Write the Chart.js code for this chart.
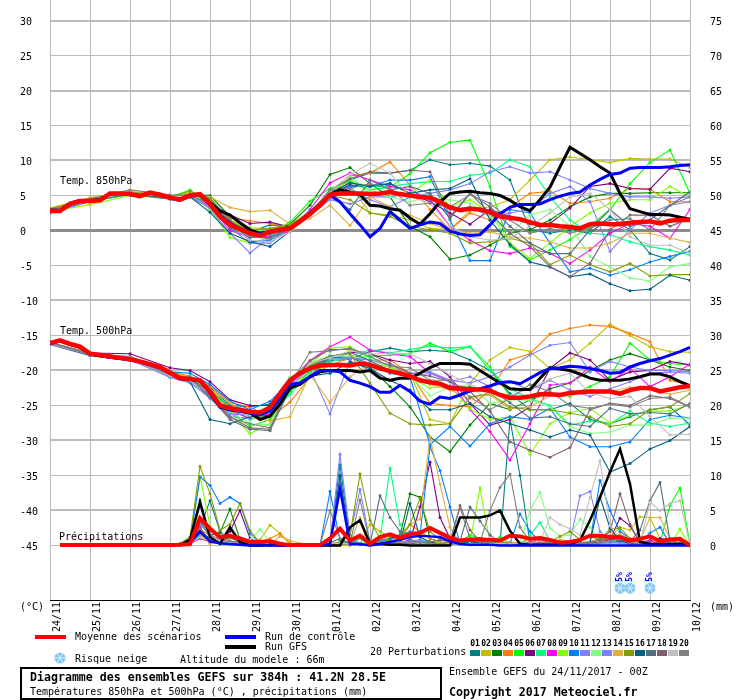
<!DOCTYPE html>
<html><head><meta charset="utf-8">
<style>html,body{margin:0;padding:0;background:#fff}canvas{display:block}</style>
<script src="https://cdn.jsdelivr.net/npm/chart.js@4"></script>
</head><body><canvas id="c" width="740" height="700"></canvas>
<script>
const dateLabels=["24/11","25/11","26/11","27/11","28/11","29/11","30/11","01/12","02/12","03/12","04/12","05/12","06/12","07/12","08/12","09/12","10/12"];
const tempTicks=[-45,-40,-35,-30,-25,-20,-15,-10,-5,0,5,10,15,20,25,30];
const mmTicks=[0,5,10,15,20,25,30,35,40,45,50,55,60,65,70,75];
const memberColors=["#008080","#C0C000","#008000","#FF8000","#00FF00","#800080","#00FF80","#FF00FF","#80FF00","#0080FF","#8080FF","#80FF80","#8080FF","#E0B040","#80A000","#006080","#507080","#806070","#C0C0C0","#808080"];
const memberHours=[0,24,48,72,84,96,108,120,132,144,156,168,180,192,204,216,228,240,252,264,276,288,300,312,324,336,348,360,372,384];
const precipHours=[78,84,90,96,102,108,114,120,126,132,138,144,150,156,162,168,174,180,186,192,198,204,210,216,222,228,234,240,246,252,258,264,270,276,282,288,294,300,306,312,318,324,330,336,342,348,354,360,366,372,378,384];
const snowHours=[342,348,360];
const snowLabels=["5%","5%","5%"];

const mean850=[2.8,2.8,3.8,4.2,4.2,4.3,5.3,5.3,5.2,4.9,5.4,5.1,4.7,4.4,5.0,5.2,3.8,2.0,0.8,0.2,-0.4,-0.7,-0.2,0.1,0.3,1.3,2.4,3.6,5.1,5.3,5.3,5.3,5.2,5.3,5.5,5.2,5.0,4.8,4.7,4.1,3.3,2.9,3.1,3.0,2.6,2.0,1.8,1.6,1.2,0.8,0.8,0.6,0.5,0.3,0.9,1.0,0.9,0.9,1.1,1.2,1.3,1.0,1.4,1.5,1.5];
const gfs850=[2.9,2.9,3.9,4.3,4.3,4.4,5.3,5.3,5.2,5.0,5.4,5.1,4.7,4.4,5.0,5.2,4.0,2.8,2.2,1.1,0.1,-0.4,-0.2,0.1,0.3,1.4,2.5,3.7,5.1,5.8,5.5,5.1,3.6,3.5,3.1,2.9,1.8,0.9,2.4,4.1,5.3,5.5,5.6,5.4,5.3,5.0,4.3,3.4,2.8,4.4,6.2,9.1,11.9,11.0,10.1,9.1,8.2,5.3,3.1,2.7,2.3,2.3,2.2,1.9,1.6];
const ctl850=[2.9,2.9,3.8,4.3,4.3,4.4,5.2,5.3,5.1,5.0,5.4,5.2,4.6,4.3,4.9,5.1,3.7,2.2,1.0,0.3,-0.3,-0.5,-0.1,0.2,0.4,1.2,2.3,3.5,5.1,4.1,2.4,0.8,-0.9,0.3,2.7,1.5,0.3,0.8,1.2,1.0,-0.1,-0.5,-0.7,-0.6,0.8,2.4,3.3,3.7,3.7,3.8,4.4,4.9,5.3,5.5,6.5,7.3,8.0,8.2,8.9,9.0,9.0,9.0,9.1,9.3,9.4];
const t850m01=[3.0,4.4,5.5,4.8,5.2,4.2,1.0,-0.2,0.8,0.6,2.2,5.6,7.2,8.2,8.2,8.6,10.1,9.4,9.6,9.2,7.2,0.1,-0.4,0.1,-0.4,2.0,0.1,-3.3,-4.2,-2.3];
const t850m02=[3.2,4.7,5.6,4.9,5.4,4.4,1.5,0.4,0.2,0.8,2.8,5.4,6.5,2.5,2.2,1.5,0.3,0.1,2.9,3.4,4.4,7.2,10.1,10.5,10.1,9.7,10.3,10.2,10.2,9.0];
const t850m03=[2.9,4.2,5.3,4.5,5.2,5.0,2.0,0.2,-0.3,0.9,3.6,8.0,9.0,6.7,4.8,0.6,-0.9,-4.1,-3.5,-2.1,-0.4,0.1,1.5,3.4,4.8,5.3,5.3,5.4,5.4,5.4];
const t850m04=[3.0,4.3,5.2,4.6,4.9,4.0,1.8,1.4,1.0,0.4,2.0,4.8,7.8,8.2,9.8,6.5,3.0,0.1,2.5,1.5,3.4,5.3,5.6,3.9,4.1,4.6,6.0,5.9,4.1,4.1];
const t850m05=[2.9,4.1,5.3,4.7,5.8,3.5,0.5,0.0,-0.5,1.2,4.2,6.0,7.0,5.8,6.2,8.1,11.1,12.6,12.9,6.3,-2.3,-4.2,-2.8,-1.3,0.6,3.0,6.7,9.7,11.5,5.3];
const t850m06=[2.8,4.2,5.2,4.6,4.9,3.9,2.2,1.0,1.2,0.5,2.6,5.2,6.5,6.3,6.7,5.3,4.1,2.5,0.9,3.0,2.0,1.0,1.0,3.2,6.3,6.7,6.0,5.9,8.9,8.4];
const t850m07=[2.9,4.2,5.1,4.7,5.1,3.6,1.2,0.0,-0.7,0.1,2.4,5.0,7.0,6.3,6.3,6.7,7.0,7.0,7.9,8.2,10.1,9.1,4.8,1.5,-0.4,-0.6,-1.6,-2.3,-2.8,-3.5];
const t850m08=[3.0,4.3,5.3,4.7,5.0,3.5,0.0,-1.0,-0.8,-0.2,3.0,6.8,8.2,7.2,6.3,5.8,4.4,0.6,-1.4,-2.9,-3.3,-2.5,-3.3,-4.7,-2.8,-0.4,1.0,0.6,-1.1,3.0];
const t850m09=[2.7,3.7,5.0,4.5,5.2,3.0,-1.0,-1.8,-1.0,0.3,2.6,5.4,7.4,5.3,4.8,5.3,7.2,3.4,4.4,2.5,-1.8,-4.0,-1.8,0.6,2.5,3.9,4.4,4.4,6.3,4.8];
const t850m10=[2.8,4.3,5.3,4.6,5.1,4.6,1.5,-1.6,-1.4,0.2,2.8,5.2,6.3,6.3,7.2,7.2,7.7,1.5,-4.3,-4.3,3.0,2.5,-1.8,-5.9,-5.4,-6.4,-5.6,-4.5,-3.7,-3.0];
const t850m11=[2.5,4.1,5.2,4.5,4.8,3.2,-0.4,-3.2,-0.9,0.2,2.2,4.4,3.8,4.8,4.8,5.3,4.4,3.0,3.4,2.0,2.5,3.0,5.3,6.3,4.1,-3.0,0.1,2.5,3.6,4.1];
const t850m12=[2.9,4.2,5.2,4.7,5.0,3.8,1.0,0.2,-0.2,0.5,2.6,5.5,7.6,5.8,4.8,4.1,4.8,4.4,3.9,2.0,-0.4,2.2,3.0,0.6,-3.7,-5.2,-6.8,-7.2,-5.2,-4.7];
const t850m13=[2.6,4.2,5.3,4.7,5.0,3.3,0.4,-1.8,-1.8,0.3,2.7,5.2,6.0,4.4,3.4,4.8,5.3,5.8,6.7,8.4,9.1,8.2,8.4,7.2,6.0,5.3,4.8,4.8,4.6,4.8];
const t850m14=[3.1,4.6,5.5,4.7,5.1,4.8,3.3,2.7,2.9,0.9,1.7,3.6,0.7,4.8,3.4,2.2,1.0,0.1,-0.4,-0.2,-0.9,-1.1,-1.6,-2.5,-2.5,-1.8,-0.4,-0.4,-1.1,-1.7];
const t850m15=[3.1,4.5,5.5,4.9,5.6,4.6,1.4,0.0,0.3,0.9,2.4,5.0,4.4,2.5,2.0,0.6,0.1,-0.4,-1.8,-1.6,-1.1,-1.8,-4.9,-3.5,-4.9,-5.9,-4.7,-6.5,-6.3,-6.3];
const t850m16=[2.6,4.3,5.3,4.6,4.8,2.6,-0.4,-1.6,-2.3,-0.1,2.3,5.4,6.8,6.3,6.7,5.3,5.8,6.0,7.4,1.5,-2.0,-4.5,-5.2,-6.6,-6.2,-7.6,-8.6,-8.4,-6.4,-7.1];
const t850m17=[2.8,4.2,5.2,4.5,4.9,3.7,0.4,-1.0,-1.0,0.2,2.2,4.8,3.0,7.2,5.8,6.3,5.3,1.7,5.3,3.4,0.6,-1.8,-3.3,-3.3,0.1,3.0,0.6,1.5,3.6,5.5];
const t850m18=[2.8,4.4,5.4,4.7,5.0,3.9,1.3,-0.6,-0.5,0.0,2.4,5.8,7.4,8.4,8.2,8.6,8.4,2.0,5.3,2.5,-0.4,-2.3,-5.2,-6.6,-4.7,0.1,2.2,2.2,0.6,1.7];
const t850m19=[2.8,4.3,5.4,4.8,4.9,3.7,0.8,-1.4,-1.6,-0.2,2.1,5.6,8.0,9.6,8.2,4.8,3.9,0.6,-0.9,-1.4,-1.1,0.6,2.5,4.8,5.3,3.0,-0.9,-2.1,-2.1,-3.3];
const t850m20=[2.5,4.5,5.8,5.1,5.0,3.7,0.6,-0.8,-1.2,0.1,2.5,5.8,6.0,6.7,6.0,3.6,3.9,3.4,5.1,3.9,1.5,-0.4,0.3,-0.4,0.3,1.5,1.7,0.1,3.6,4.8];

const mean500=[-16.1,-15.7,-16.2,-16.6,-17.6,-17.8,-18.0,-18.2,-18.4,-18.7,-19.1,-19.5,-20.3,-21.1,-21.2,-21.4,-23.0,-25.0,-25.4,-25.6,-25.9,-26.0,-25.3,-23.3,-21.4,-20.4,-19.7,-19.3,-19.2,-19.2,-19.3,-19.0,-19.2,-19.7,-20.1,-20.4,-20.8,-21.4,-21.7,-21.9,-22.5,-22.6,-22.7,-22.7,-22.9,-23.5,-23.9,-23.9,-23.7,-23.4,-23.4,-23.5,-23.2,-23.1,-23.0,-23.0,-23.0,-23.3,-22.8,-22.5,-22.5,-23.0,-22.7,-22.4,-22.2];
const gfs500=[-16.1,-15.7,-16.2,-16.6,-17.6,-17.9,-18.1,-18.3,-18.4,-18.7,-19.1,-19.5,-20.3,-21.1,-21.2,-21.5,-23.2,-25.2,-25.6,-25.8,-26.0,-27.0,-26.5,-24.8,-22.5,-22.0,-20.9,-20.2,-20.0,-20.0,-20.0,-20.2,-20.0,-21.1,-21.4,-21.1,-21.1,-20.4,-19.6,-19.0,-19.0,-19.0,-19.1,-20.0,-20.9,-21.8,-22.6,-22.7,-22.7,-21.1,-19.6,-19.8,-20.0,-20.5,-21.1,-21.4,-21.4,-21.4,-21.2,-20.9,-20.5,-20.5,-20.9,-21.6,-22.2];
const ctl500=[-16.2,-15.8,-16.3,-16.7,-17.7,-17.9,-18.1,-18.3,-18.5,-18.8,-19.2,-19.6,-20.4,-21.2,-21.3,-21.5,-23.2,-25.2,-25.6,-25.8,-26.1,-26.3,-25.8,-24.0,-22.0,-21.8,-20.9,-20.0,-20.0,-20.2,-21.4,-21.8,-22.3,-23.1,-23.1,-22.1,-23.0,-24.4,-24.8,-23.8,-24.0,-23.5,-22.9,-22.6,-22.2,-21.7,-21.6,-21.9,-21.1,-20.3,-19.7,-19.6,-19.4,-19.5,-19.7,-20.0,-20.4,-20.3,-19.5,-19.0,-18.6,-18.3,-17.8,-17.3,-16.7];
const t500m01=[-16.0,-17.5,-18.1,-20.4,-21.0,-22.4,-25.0,-25.2,-24.8,-21.0,-19.6,-18.6,-18.4,-17.3,-16.8,-17.3,-17.1,-17.3,-18.5,-20.0,-23.3,-25.6,-25.6,-24.7,-27.0,-27.6,-26.6,-25.6,-25.2,-27.8];
const t500m02=[-16.0,-17.7,-18.2,-20.6,-21.4,-23.4,-25.6,-26.4,-25.8,-22.2,-20.2,-19.2,-19.0,-19.0,-19.5,-20.4,-27.0,-27.6,-21.8,-18.5,-16.7,-17.3,-19.7,-18.5,-16.1,-13.4,-15.0,-16.6,-17.3,-17.4];
const t500m03=[-16.1,-17.6,-18.3,-20.5,-21.2,-22.8,-25.4,-26.2,-25.8,-21.4,-19.4,-18.2,-18.0,-19.5,-22.3,-25.2,-29.5,-31.6,-27.8,-24.7,-25.6,-24.2,-22.6,-21.8,-20.0,-18.5,-17.6,-18.5,-19.5,-20.0];
const t500m04=[-16.0,-17.6,-18.0,-20.2,-20.8,-22.2,-24.6,-25.2,-26.8,-24.5,-21.0,-19.2,-18.2,-18.5,-18.5,-20.4,-24.7,-25.0,-25.2,-22.8,-18.5,-17.6,-14.8,-14.0,-13.5,-13.7,-14.7,-15.9,-21.4,-22.1];
const t500m05=[-16.2,-17.6,-18.2,-20.6,-21.0,-23.6,-26.0,-28.0,-27.0,-23.0,-20.0,-18.4,-18.2,-18.0,-17.8,-17.6,-16.1,-17.3,-16.6,-19.5,-23.7,-24.2,-23.3,-23.7,-22.3,-20.9,-16.1,-18.5,-19.0,-19.2];
const t500m06=[-16.0,-17.5,-17.6,-19.6,-20.0,-21.6,-24.2,-25.0,-25.0,-21.6,-19.0,-18.0,-17.4,-17.6,-18.5,-19.0,-18.7,-20.9,-24.7,-27.8,-27.0,-25.2,-19.7,-17.5,-18.5,-21.4,-20.2,-20.0,-18.7,-19.2];
const t500m07=[-16.1,-17.7,-18.2,-20.7,-21.0,-23.0,-25.4,-27.0,-26.4,-23.4,-20.2,-18.8,-18.0,-17.0,-17.5,-17.0,-16.5,-16.8,-16.6,-20.0,-22.6,-24.0,-25.0,-27.8,-27.2,-27.6,-25.8,-27.5,-28.0,-27.5];
const t500m08=[-16.1,-17.7,-18.2,-20.5,-21.2,-23.2,-25.8,-26.8,-26.2,-21.4,-18.6,-16.6,-15.2,-17.1,-17.6,-18.0,-20.4,-21.4,-25.6,-28.7,-32.8,-27.6,-22.1,-21.8,-19.5,-21.6,-19.7,-22.3,-20.9,-19.1];
const t500m09=[-16.0,-17.6,-18.3,-20.7,-21.3,-23.6,-26.0,-29.0,-27.6,-22.6,-19.0,-16.8,-16.6,-18.2,-19.5,-21.0,-22.5,-22.2,-25.5,-27.0,-26.6,-32.0,-27.6,-26.0,-25.4,-27.5,-26.4,-25.8,-25.8,-24.9];
const t500m10=[-16.2,-17.8,-18.0,-20.2,-20.4,-22.0,-24.4,-25.6,-24.4,-21.6,-19.8,-18.2,-18.0,-19.0,-20.4,-20.9,-30.6,-28.0,-30.8,-27.6,-26.6,-27.0,-25.4,-29.5,-30.9,-30.9,-30.2,-27.0,-26.4,-26.8];
const t500m11=[-16.3,-17.9,-18.5,-20.9,-21.6,-24.0,-26.6,-26.8,-26.0,-22.2,-19.8,-26.2,-18.6,-20.0,-21.4,-20.9,-20.4,-21.6,-20.9,-22.3,-21.6,-22.8,-21.4,-22.8,-23.7,-22.6,-21.6,-20.4,-20.2,-20.4];
const t500m12=[-16.1,-17.7,-18.4,-20.6,-21.4,-23.4,-25.8,-27.6,-27.8,-21.0,-19.0,-17.8,-18.0,-18.4,-19.6,-20.8,-23.6,-22.4,-22.0,-24.7,-24.2,-24.2,-25.2,-28.0,-29.0,-28.8,-27.8,-27.8,-26.8,-26.8];
const t500m13=[-16.2,-17.8,-18.4,-21.0,-21.8,-23.8,-26.2,-26.4,-26.0,-22.0,-19.6,-18.4,-18.2,-18.5,-19.2,-20.4,-20.2,-21.4,-21.8,-20.9,-19.5,-17.8,-16.4,-16.0,-20.2,-18.7,-19.5,-20.0,-20.0,-20.2];
const t500m14=[-16.0,-17.5,-18.1,-20.3,-21.0,-22.6,-24.6,-26.6,-27.2,-26.6,-20.6,-24.6,-20.9,-19.0,-20.0,-21.0,-22.0,-22.8,-24.0,-23.5,-25.5,-25.2,-23.6,-23.6,-22.8,-23.0,-22.4,-22.8,-23.4,-22.8];
const t500m15=[-16.1,-17.6,-18.2,-20.4,-21.4,-22.8,-25.2,-25.8,-25.6,-21.4,-19.2,-18.0,-17.6,-21.8,-26.1,-27.6,-27.8,-27.6,-23.8,-23.3,-25.2,-25.6,-25.6,-26.1,-26.6,-28.0,-27.6,-25.6,-25.2,-23.3];
const t500m16=[-16.2,-17.8,-18.4,-20.8,-21.6,-27.0,-27.6,-26.6,-26.4,-22.8,-20.8,-20.4,-18.8,-19.7,-21.4,-22.8,-25.6,-25.6,-24.7,-26.6,-27.6,-28.5,-29.5,-28.5,-29.2,-34.5,-33.3,-31.2,-30.0,-28.0];
const t500m17=[-16.1,-17.8,-18.3,-20.7,-21.2,-23.8,-27.0,-28.4,-28.6,-22.6,-20.8,-18.0,-17.4,-18.6,-20.0,-20.8,-21.6,-22.2,-22.4,-22.6,-24.6,-26.8,-26.6,-27.6,-28.0,-25.4,-26.2,-26.0,-26.2,-24.7];
const t500m18=[-16.0,-17.6,-18.3,-20.6,-21.0,-23.6,-26.6,-28.2,-28.4,-22.0,-18.6,-17.0,-17.0,-17.6,-19.0,-20.4,-20.8,-21.6,-23.0,-25.8,-30.2,-31.4,-32.4,-31.0,-25.6,-24.7,-25.0,-23.6,-24.0,-25.2];
const t500m19=[-16.2,-17.7,-18.4,-20.8,-21.5,-23.2,-25.6,-26.4,-26.0,-22.4,-19.0,-18.2,-17.2,-17.6,-17.6,-17.6,-19.0,-20.6,-22.0,-23.2,-23.6,-22.6,-21.2,-20.4,-23.2,-24.0,-23.7,-26.6,-29.2,-29.1];
const t500m20=[-16.1,-17.7,-18.3,-20.5,-21.2,-23.6,-26.8,-27.6,-28.2,-22.0,-17.4,-17.2,-16.8,-18.0,-19.4,-19.6,-21.4,-21.4,-23.8,-25.6,-24.0,-22.0,-23.0,-25.0,-25.4,-24.8,-25.2,-24.0,-23.8,-25.2];

const meanRain=[null,0.05,0.05,0.05,0.05,0.05,0.05,0.05,0.05,0.05,0.05,0.05,0.05,0.1,0.2,3.9,2.4,1.2,1.4,1.0,0.5,0.5,0.6,0.25,0.05,0.05,0.05,0.05,1.0,2.4,0.7,1.4,0.25,1.2,1.6,1.1,1.6,1.8,2.5,1.8,1.1,0.7,0.85,0.9,0.8,0.7,1.4,1.3,0.95,1.05,0.8,0.4,0.5,0.8,1.4,1.4,1.2,1.2,0.7,0.95,1.3,0.6,0.85,0.95,0];
const gfsRain=[null,0,0,0,0,0,0,0,0,0,0,0,0,0.1,0.8,6.2,1.2,0.25,2.6,0.5,0,0,0.1,0,0,0,0,0,0,0,2.6,3.6,0.25,0.2,0.1,0.1,0,0,0,0,0,4,4,4,4.3,5,2.1,0.25,0.1,0.1,0.1,0.1,0.2,0.7,3.6,6.9,10.5,13.8,8.8,0.5,0.2,0.2,0.2,0.2,0];
const ctlRain=[null,0,0,0,0,0,0,0,0,0,0,0,0,0.1,0.4,2.0,0.6,0.3,0.2,0.1,0,0,0,0,0,0,0,0,0.2,8.1,0.2,0.2,0,0.2,0.5,0.8,1.2,1.4,1.3,1.2,0.6,0.2,0.1,0.1,0.1,0,0,0,0,0,0,0,0,0,0,0,0,0,0,0,0,0,0,0,0];
const rainM01=[0,.4,2.5,6.4,2,.5,.3,.2,0,0,0,0,0,0,0,.3,11.5,1,.3,.1,.5,.7,.3,.8,.6,.4,.3,.2,.3,.5,.3,.5,.2,18,10,.3,.2,.1,.1,.2,.3,.5,1,1,.8,.5,.3,.2,.1,.2,.2,0];
const rainM02=[0,.2,1,.6,.4,.3,.2,.4,.8,2.9,1.7,.2,0,0,0,0,0,0,.2,3,2,1.2,.7,.4,.3,.2,.1,.2,.3,.3,.4,.2,.3,.4,.2,.3,.3,.5,.8,.6,.4,.5,.8,1.3,2.6,2.2,4.1,4,1,.3,.2,0];
const rainM03=[.1,.6,4,1.5,1.8,5.2,.8,.2,.1,0,0,0,0,0,0,0,.4,.6,.3,.2,.8,1,1.5,7.4,6.9,1,.5,.2,.2,.5,.6,.5,.2,.1,.2,.1,.2,.2,.3,.2,.3,.5,.8,1,.6,.4,.2,.2,.2,.1,.1,0];
const rainM04=[.1,.5,2.2,1.5,.8,.6,.5,.3,.6,1,1.7,.4,0,0,0,0,.3,.2,1,.5,.3,.4,1.5,3,2,1,.5,.4,.3,.2,.3,.2,.1,.2,.3,1,.8,.3,.2,.5,.4,.3,.5,1,1,.7,.5,.6,.4,.3,.2,0];
const rainM05=[.1,.3,1.5,1,.3,.2,.2,.1,0,0,0,0,0,0,0,0,.6,.3,.2,.2,.3,.5,.4,.5,.8,.5,.3,.2,.5,1.5,1,.6,1.2,.3,.2,.2,.2,.1,.2,.2,.2,.3,.2,.4,.5,.5,.3,.2,.4,5.7,8.2,.2];
const rainM06=[.2,1,2,1,.5,2,5,1,.3,0,0,0,0,0,0,0,.2,.4,.2,.1,.2,.3,.4,.6,5.5,11.9,4,1,.5,.4,.3,.4,.3,.2,.2,.2,.3,.2,.3,.4,.3,.2,.4,.8,3.9,2.8,.5,.7,1,.8,.3,0];
const rainM07=[.1,.5,1.5,.5,.2,.1,.1,.5,.8,.4,.2,0,0,0,0,0,.5,.3,1,.1,.8,11,3,.8,.4,.3,.2,.2,.4,.8,.5,.4,.3,.2,.2,1.5,3.3,.6,.3,.2,.4,.5,.3,.2,.3,.2,.2,.1,.2,.1,.1,0];
const rainM08=[.1,.3,1,.5,.4,.3,.5,.2,.1,0,0,0,0,0,0,0,.2,.1,.3,.2,.3,.2,.4,.8,.3,.2,.1,.2,.3,.5,.3,.6,.2,.3,.2,.5,.9,.4,.3,.2,.2,.3,.4,.5,.6,.3,.2,.6,.3,.5,.4,0];
const rainM09=[.1,.8,9.8,2.8,.6,.3,.3,.2,.3,0,0,0,0,0,0,0,.1,.2,.4,.6,.3,.4,.2,.5,.8,.6,.4,.3,.5,.5,8.2,.5,.6,.4,.3,.3,.2,.4,.3,.2,.3,.2,.2,.5,.4,.3,.2,.2,.1,.1,2.3,0];
const rainM10=[.1,.5,9.8,8.6,6,6.9,6,1.7,.3,0,0,0,0,0,0,7.7,.8,.2,.1,.2,.6,.8,1.5,2,1.5,14.1,10.7,5.5,.2,.1,.2,.1,.2,.2,4.5,2,.5,.3,.2,.2,.3,.5,9.3,5,2,1,.4,1.8,2.6,.3,.1,0];
const rainM11=[.1,.4,3,1.6,.8,.4,.3,.2,.1,0,0,0,0,0,0,.5,13,1.5,8,.5,.3,.2,.5,.6,.8,.3,.2,.2,.1,.2,.3,.2,.4,.3,.2,.2,.1,.2,.4,.6,7.1,7.7,2,.6,.4,.3,.2,.2,.2,.1,.1,0];
const rainM12=[0,.3,1.2,.6,.4,.5,.3,.8,2.3,.5,.2,0,0,0,0,0,.3,.2,.4,.2,.3,.5,.3,.2,.3,.2,.3,.2,.2,.3,.4,.5,.3,.2,.4,5,7.6,2.5,1.3,1.5,3.8,2.6,.6,.3,.3,.2,.2,.1,.2,.1,.1,0];
const rainM13=[.1,.2,1.5,.7,.4,.3,.3,.2,.1,0,0,0,0,0,0,.2,9.5,.8,.3,.2,.2,.3,.3,.4,.6,.3,.2,.2,.3,.2,.2,.3,.2,.1,.2,.2,.3,.2,.1,.2,.3,.2,.3,.4,.4,.2,.1,.2,.2,.1,.1,0];
const rainM14=[.2,.8,1.8,.2,.6,1,.7,.5,.2,.1,1.3,.7,.3,0,0,.5,.4,.2,4,.2,.4,.6,1.2,3,3.8,15.5,8.8,2.6,.3,.2,.4,.3,.2,.3,.4,.6,.3,.3,.5,.4,.3,.6,.8,1.5,1.6,1,.7,4,4,1,.3,0];
const rainM15=[.3,1.2,11.3,7.4,2.2,3,6,2.1,.4,0,0,0,0,0,0,0,.5,1.5,10.2,3.6,1,.6,.8,3,6.7,2,.8,.5,.4,.5,.3,.3,.5,.4,.3,.3,.4,.5,1.3,2,.8,1.2,.9,2.3,2.5,1,.4,.3,.3,.1,.1,0];
const rainM16=[.1,.4,1.8,.7,.5,1.2,.4,.2,.1,0,0,0,0,0,0,0,10,.4,.2,.1,.3,.5,.3,6,1.2,.5,.2,.2,.3,.5,.4,.2,.1,.1,.2,.2,.2,.1,.2,.3,.2,.4,6.9,2.5,.7,.3,.2,.2,.1,.1,.1,0];
const rainM17=[.1,.6,3.5,1.2,.4,.6,.3,.2,.1,0,0,0,0,0,0,.4,1,.3,.2,.1,7.1,4,2,.6,.4,.3,.2,.4,.6,5.5,3.5,1.5,.4,.2,.1,.2,.3,.2,.1,.1,.2,.3,.5,1.2,.8,.6,2.2,6.4,9,.7,.3,0];
const rainM18=[.1,.7,2.6,.5,.3,.5,.2,.1,.2,.1,0,0,0,0,0,.2,.2,.1,.3,.1,.2,.4,.3,.3,.2,.5,.8,.6,5.7,2.2,.6,.4,.3,.2,.3,.4,.2,.3,.2,.3,.5,.4,.8,2,7.4,3,.3,.2,.2,.2,.5,0];
const rainM19=[.1,.4,5.5,1.2,.6,.4,.3,.2,.1,0,0,0,0,0,0,.2,.3,.2,.3,.2,.2,.3,.4,.5,.3,.2,.2,.3,.2,.3,.2,.2,.3,.2,.4,.3,.5,4,3,2.4,1.5,6.9,12.1,2.8,1,.5,.3,6.2,5,6,6.4,0];
const rainM20=[.1,.4,6.5,.8,.3,2.5,.3,.2,.1,0,0,0,0,0,0,5,1,.3,6.5,.4,.3,.4,.3,.5,.4,.3,.2,.5,5.4,1,.5,5,8.3,10.2,2.6,.6,.4,.3,.2,.3,.3,.2,.4,.6,1,.4,.3,.3,.2,.6,.4,0];

const t850Members=[t850m01,t850m02,t850m03,t850m04,t850m05,t850m06,t850m07,t850m08,t850m09,t850m10,t850m11,t850m12,t850m13,t850m14,t850m15,t850m16,t850m17,t850m18,t850m19,t850m20];
const t500Members=[t500m01,t500m02,t500m03,t500m04,t500m05,t500m06,t500m07,t500m08,t500m09,t500m10,t500m11,t500m12,t500m13,t500m14,t500m15,t500m16,t500m17,t500m18,t500m19,t500m20];
const rainMembers=[rainM01,rainM02,rainM03,rainM04,rainM05,rainM06,rainM07,rainM08,rainM09,rainM10,rainM11,rainM12,rainM13,rainM14,rainM15,rainM16,rainM17,rainM18,rainM19,rainM20];

const MONO='"DejaVu Sans Mono"';
const xy=(hs,vs)=>vs.map((v,i)=>({x:hs[i],y:v}));
const six=vs=>vs.map((v,i)=>({x:i*6,y:v}));
const datasets=[];
[[t850Members,memberHours,'yT'],[t500Members,memberHours,'yT'],[rainMembers,precipHours,'yR']].forEach(([grp,hs,axis])=>{
  grp.forEach((vals,i)=>datasets.push({data:xy(hs,vals),order:40-i,yAxisID:axis,borderColor:memberColors[i],backgroundColor:memberColors[i],borderWidth:1.1,pointRadius:1.5,pointBorderWidth:0,fill:false,tension:0}));
});
const main=(vals,col,w,axis,order)=>({data:six(vals),order,yAxisID:axis,borderColor:col,backgroundColor:col,borderWidth:w,pointRadius:0,fill:false,tension:0,spanGaps:false});
[[gfs850,'#000000',3,'yT',3],[gfs500,'#000000',3,'yT',3],[gfsRain,'#000000',2.5,'yR',3],
 [ctl850,'#0000FF',3,'yT',2],[ctl500,'#0000FF',3,'yT',2],[ctlRain,'#0000FF',2.5,'yR',2],
 [mean850,'#FF0000',4.5,'yT',1],[mean500,'#FF0000',4.5,'yT',1],[meanRain,'#FF0000',4,'yR',1]].forEach(a=>datasets.push(main(...a)));

function flake(ctx,cx,cy,r){
  ctx.save();
  ctx.fillStyle='#7FC4EE';ctx.beginPath();ctx.arc(cx,cy,r,0,Math.PI*2);ctx.fill();
  ctx.strokeStyle='#DFF3FF';ctx.lineWidth=1;
  for(let k=0;k<3;k++){const a=k*Math.PI/3;ctx.beginPath();ctx.moveTo(cx-Math.cos(a)*r,cy-Math.sin(a)*r);ctx.lineTo(cx+Math.cos(a)*r,cy+Math.sin(a)*r);ctx.stroke();}
  ctx.restore();
}
const flakeIcon=document.createElement('canvas');flakeIcon.width=12;flakeIcon.height=12;
flake(flakeIcon.getContext('2d'),6,6,5.5);
datasets.push({type:'scatter',order:0,data:snowHours.map(h=>({x:h,y:-51.1})),yAxisID:'yT',pointStyle:flakeIcon,pointRadius:6,showLine:false});

function txt(ctx,s,x,y,font,color){ctx.font=font;ctx.fillStyle=color||'#000';ctx.textAlign='left';ctx.textBaseline='middle';ctx.fillText(s,x,y);}
const page={id:'page',afterDatasetsDraw(chart){
  const c=chart.ctx,xs=chart.scales.x;const f=MONO,n='10px '+f;
  c.save();
  txt(c,'Temp. 850hPa',60,181,n);txt(c,'Temp. 500hPa',60,331,n);txt(c,'Précipitations',59,537,n);
  txt(c,'(°C)',20,607,n);txt(c,'(mm)',710,607,n);
  c.fillStyle='#D8FBFF';c.fillRect(xs.getPixelForValue(snowHours[0])-8,580,24,3);c.fillRect(xs.getPixelForValue(snowHours[2])-6,580,12,3);
  snowHours.forEach((h,i)=>{c.save();c.translate(xs.getPixelForValue(h),577);c.rotate(-Math.PI/2);c.font='bold 8px '+f;c.fillStyle='#0000FF';c.textAlign='center';c.textBaseline='middle';c.fillText(snowLabels[i],0,0);c.restore();});
  [[35,637,'#FF0000'],[225,637,'#0000FF'],[225,647,'#000000']].forEach(([x,y,col])=>{c.fillStyle=col;c.fillRect(x,y-2,31,4);});
  txt(c,'Moyenne des scénarios',75,637.5,n);txt(c,'Run de contrôle',265,637.5,n);txt(c,'Run GFS',265,647.5,n);
  flake(c,60,658,5.5);
  txt(c,'Risque neige',75,659.5,n);txt(c,'Altitude du modele : 66m',180,660.5,n);txt(c,'20 Perturbations',370,652.5,n);
  memberColors.forEach((col,i)=>{const x=470+i*11;c.fillStyle=col;c.fillRect(x,650,10,6);
    const lab=String(i+1).padStart(2,'0');c.font='bold 8px '+f;c.fillStyle='#000';c.textAlign='center';c.textBaseline='middle';c.fillText(lab,x+5,644);});
  c.strokeStyle='#000';c.lineWidth=2;c.strokeRect(21,668,420,31);
  txt(c,'Diagramme des ensembles GEFS sur 384h : 41.2N 28.5E',30,677.5,'bold 11.6px '+f);
  txt(c,'Températures 850hPa et 500hPa (°C) , précipitations (mm)',30,692.5,n);
  txt(c,'Ensemble GEFS du 24/11/2017 - 00Z',449,672.5,n);
  txt(c,'Copyright 2017 Meteociel.fr',449,692.5,'bold 11.6px '+f);
  c.restore();
}};
const yMax=32.93,yMin=-52.79;
const noPad=s=>{s.paddingTop=0;s.paddingBottom=0;s.paddingLeft=0;s.paddingRight=0;};
new Chart(document.getElementById('c'),{type:'line',data:{datasets},plugins:[page],options:{
  responsive:false,animation:false,devicePixelRatio:1,normalized:true,parsing:{xAxisKey:'x',yAxisKey:'y'},
  layout:{autoPadding:false,padding:{left:20,right:0,top:0,bottom:0}},
  plugins:{legend:{display:false},tooltip:{enabled:false}},
  scales:{
    x:{type:'linear',min:0,max:384,afterBuildTicks:s=>{s.ticks=dateLabels.map((_,i)=>({value:i*24}));},
       afterFit:s=>{s.height=100;noPad(s);},
       border:{display:true,color:'#000',width:1},
       grid:{color:'#BBBBBB',lineWidth:1,drawTicks:false},
       ticks:{autoSkip:false,minRotation:90,maxRotation:90,padding:2,labelOffset:7,color:'#000',font:{family:MONO,size:10},callback:v=>dateLabels[v/24]}},
    yT:{type:'linear',position:'left',min:yMin,max:yMax,afterBuildTicks:s=>{s.ticks=tempTicks.map(v=>({value:v}));},
       afterFit:s=>{s.width=30;noPad(s);},
       border:{display:false},
       grid:{drawTicks:false,color:c=>c.tick&&c.tick.value===0?'#8C8C8C':'#BBBBBB',lineWidth:c=>c.tick&&c.tick.value===0?3:(c.tick&&c.tick.value%10===0?2:1)},
       ticks:{crossAlign:'far',labelOffset:2,padding:0,color:'#000',font:{family:MONO,size:10},callback:v=>String(v)}},
    yR:{type:'linear',position:'right',min:yMin+45,max:yMax+45,afterBuildTicks:s=>{s.ticks=mmTicks.map(v=>({value:v}));},
       afterFit:s=>{s.width=50;noPad(s);},
       border:{display:false},grid:{display:false,drawTicks:true,tickLength:20},
       ticks:{padding:0,labelOffset:2,color:'#000',font:{family:MONO,size:10},callback:v=>String(v)}}
  }}});
</script></body></html>
